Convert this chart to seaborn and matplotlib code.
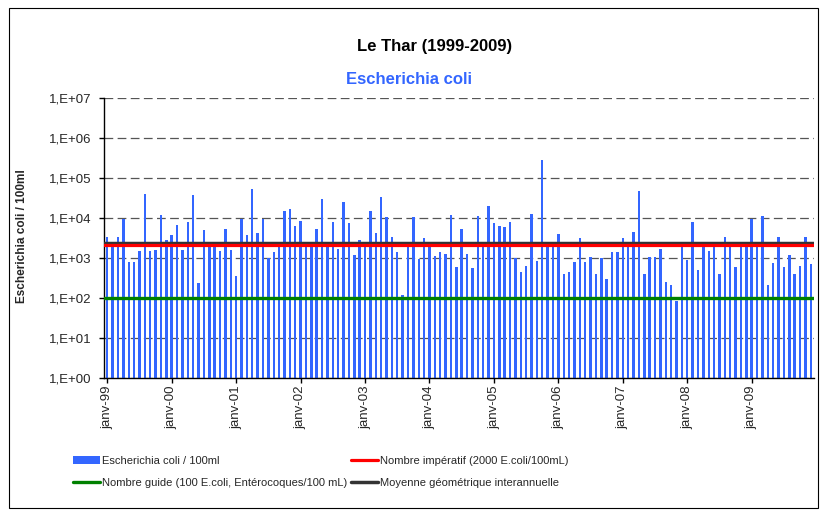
import numpy as np
import pandas as pd
import matplotlib
matplotlib.use("Agg")
import matplotlib.pyplot as plt
from matplotlib.patches import Patch, Rectangle
from matplotlib.lines import Line2D
from matplotlib.ticker import FixedLocator, NullLocator
import seaborn as sns

# Monthly E. coli counts (per 100 ml), Jan 1999 -> Dec 2009
ecoli_1999 = [3270, 2100, 3270, 9350, 780, 780, 1470, 39200, 1470, 1550, 11500, 2750]
ecoli_2000 = [3660, 6500, 1550, 7730, 36300, 234, 4890, 2000, 2000, 1470, 5170, 1550]
ecoli_2001 = [350, 9190, 3660, 51300, 4110, 9190, 980, 1380, 2000, 14500, 16300, 6140]
ecoli_2002 = [8180, 2000, 2000, 5170, 28800, 2000, 7730, 1650, 24300, 7290, 1160, 2750]
ecoli_2003 = [2000, 14500, 4110, 32400, 10300, 3270, 1380, 117, 2000, 10300, 927, 3090]
ecoli_2004 = [2000, 1100, 1380, 1230, 11500, 586, 5170, 1230, 553, 10900, 2000, 19300]
ecoli_2005 = [7290, 6140, 5800, 7730, 980, 440, 621, 12200, 826, 270000, 2000, 2000]
ecoli_2006 = [3880, 392, 440, 780, 3090, 780, 1040, 392, 980, 294, 1380, 1380]
ecoli_2007 = [3090, 2000, 4350, 45700, 392, 1040, 1040, 1650, 248, 209, 80, 2000]
ecoli_2008 = [875, 7730, 493, 2000, 1470, 2000, 392, 3270, 2000, 586, 2000, 2000]
ecoli_2009 = [9190, 2000, 10900, 209, 736, 3270, 586, 1160, 392, 621, 3270, 695]

year_labels = ["janv-99", "janv-00", "janv-01", "janv-02", "janv-03", "janv-04",
               "janv-05", "janv-06", "janv-07", "janv-08", "janv-09"]

# reference levels
nombre_imperatif = 2000
nombre_guide = 100
moyenne_geo = 2350

BLUE = "#3366FF"
RED = "#FF0000"
GREEN = "#008000"
DARK = "#333333"

sns.set_style("white")
plt.rcParams["font.family"] = ["Liberation Sans", "DejaVu Sans"]

values = (ecoli_1999 + ecoli_2000 + ecoli_2001 + ecoli_2002 + ecoli_2003 + ecoli_2004
          + ecoli_2005 + ecoli_2006 + ecoli_2007 + ecoli_2008 + ecoli_2009)
df = pd.DataFrame({"mois": np.arange(len(values)), "ecoli": values})

W, H = 826, 515
fig = plt.figure(figsize=(W / 100, H / 100), dpi=100)
ax = fig.add_axes([103.5 / W, 1 - 377.5 / H, (814 - 103.5) / W, 280 / H])

sns.barplot(data=df, x="mois", y="ecoli", color=BLUE, saturation=1, width=0.45,
            linewidth=0, errorbar=None, ax=ax, zorder=2)
ax.set_yscale("log")

ax.axhline(moyenne_geo, color=DARK, lw=2.5, zorder=3)
ax.axhline(nombre_imperatif, color=RED, lw=2.3, zorder=4)
ax.axhline(nombre_guide, color=GREEN, lw=2.4, zorder=4)

ax.set_ylim(1, 1e7)
ax.set_xlim(-0.7, len(values) - 0.4)

# y axis: Excel-like scientific labels
ax.yaxis.set_major_locator(FixedLocator([10.0 ** k for k in range(8)]))
ax.yaxis.set_minor_locator(NullLocator())
ax.set_yticklabels(["1,E+%02d" % k for k in range(8)], fontsize=9.5)
ax.yaxis.grid(True, ls=(0, (7, 3.5)), color="#555555", lw=0.9)
ax.set_axisbelow(True)

ax.set_xticks(np.arange(0, len(values), 12))
ax.set_xticklabels(year_labels, rotation=90, fontsize=9.5)
ax.tick_params(axis="both", direction="out", length=3.5, width=1, color="black",
               bottom=True, left=True, pad=2)
ax.tick_params(axis="y", pad=5)
ax.set_xlabel("")
ax.set_ylabel("")

for s in ["top", "right"]:
    ax.spines[s].set_visible(False)
for s in ["left", "bottom"]:
    ax.spines[s].set_color("black")
    ax.spines[s].set_linewidth(1)

# titles
fig.text(435 / W, 1 - 46 / H, "Le Thar (1999-2009)", ha="center", va="center",
         fontsize=12, fontweight="bold", color="black")
fig.text(409 / W, 1 - 80 / H, "Escherichia coli", ha="center", va="center",
         fontsize=12, fontweight="bold", color=BLUE)
fig.text(22 / W, 1 - 236 / H, "Escherichia coli / 100ml", ha="center", va="center",
         rotation=90, fontsize=8.5, fontweight="bold")

# legend (two columns, Excel style)
handles = [
    Patch(facecolor=BLUE, edgecolor="none"),
    Line2D([], [], color=GREEN, lw=2.4),
    Line2D([], [], color=RED, lw=2.3),
    Line2D([], [], color=DARK, lw=2.5),
]
labels = [
    "Escherichia coli / 100ml",
    "Nombre guide (100 E.coli, Entérocoques/100 mL)",
    "Nombre impératif (2000 E.coli/100mL)",
    "Moyenne géométrique interannuelle",
]
fig.legend(handles, labels, ncol=2, loc="upper left",
           bbox_to_anchor=(73 / W, 1 - 456 / H), frameon=False, fontsize=8,
           handlelength=2.4, handletextpad=0.25, columnspacing=0.3,
           labelspacing=1.05, borderpad=0, borderaxespad=0)

# outer chart border
fig.patches.append(Rectangle((9 / W, 1 - 508 / H), (818 - 9) / W, (508 - 8) / H,
                             transform=fig.transFigure, fill=False,
                             edgecolor="black", lw=0.8))

fig.savefig("out.png", dpi=100)
